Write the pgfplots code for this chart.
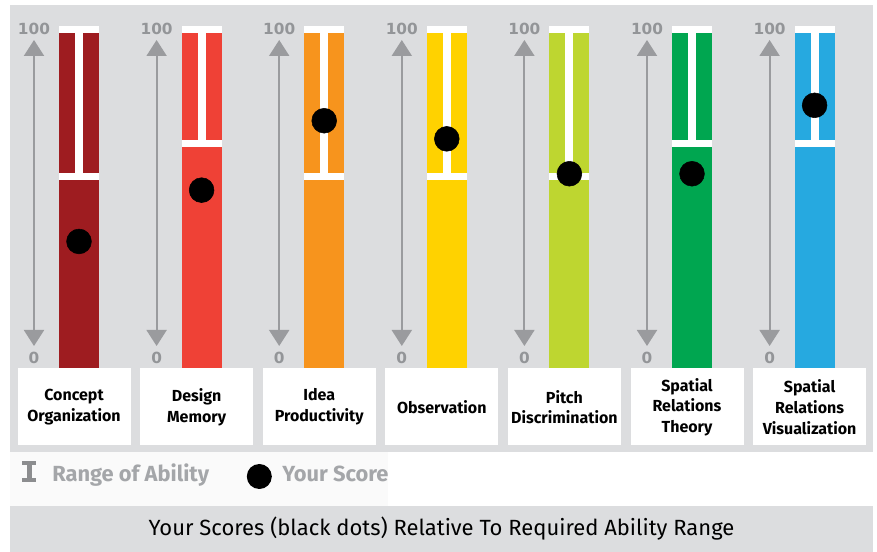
\documentclass[border=0pt]{standalone}
\usepackage{pgfplots}
\pgfplotsset{compat=1.18}
\usepackage{fontspec}
\setmainfont{Fira Sans}
\newfontfamily\dejavu{DejaVu Sans}
\usetikzlibrary{arrows.meta}

\definecolor{panel}{HTML}{DCDDDF}
\definecolor{legendbg}{HTML}{FAFAFA}
\definecolor{arrowgray}{HTML}{9A9B9E}
\definecolor{numgray}{HTML}{939598}
\definecolor{leggray}{HTML}{A4A6A9}
\definecolor{beamgray}{HTML}{8C8D8F}
\definecolor{cA}{HTML}{9E1C20}
\definecolor{cB}{HTML}{EF4136}
\definecolor{cC}{HTML}{F7941D}
\definecolor{cD}{HTML}{FFD200}
\definecolor{cE}{HTML}{BED630}
\definecolor{cF}{HTML}{00A650}
\definecolor{cG}{HTML}{26A9E0}

\begin{document}
\begin{tikzpicture}[x=0.75pt,y=0.75pt]
% background layer, laid out on a pixel grid with its origin at the top left
\begin{scope}[yshift=414pt,y=-0.75pt]
  \fill[white] (0,0) rectangle (877,552);
  \fill[panel] (10,5) rectangle (873,452.5);
  \fill[legendbg] (10,452.5) rectangle (388,506);
  \fill[panel] (10,506) rectangle (873,552);
  % scale arrows with their end labels, and the name boxes
  \foreach \i/\lab in {0/{Concept\\Organization},1/{Design\\Memory},2/{Idea\\Productivity},3/{Observation},4/{Pitch\\Discrimination},5/{Spatial\\Relations\\Theory},6/{Spatial\\Relations\\Visualization}}{
    \pgfmathsetmacro\cx{79+122.6*\i}
    \draw[arrowgray,line width=1.5pt,{Triangle[width=15,length=12]}-{Triangle[width=15,length=12]}]
      (\cx-45,346) -- (\cx-45,40);
    \node[text=numgray,font=\dejavu\bfseries\fontsize{11.5}{13}\selectfont] at (\cx-45,28.5) {100};
    \node[text=numgray,font=\dejavu\bfseries\fontsize{11.5}{13}\selectfont] at (\cx-45,358) {0};
    \fill[white] (\cx-61.5,368) rectangle (\cx+51.5,445.5);
    \node[align=center,font=\bfseries\fontsize{12}{15.5}\selectfont] at (\cx-5,407) {\lab};
  }
  % legend
  \fill[beamgray] (22,461.3) rectangle (36,465.3);
  \fill[beamgray] (26.5,461.3) rectangle (31.5,482.3);
  \fill[beamgray] (22,478.3) rectangle (36,482.3);
  \node[anchor=base west,inner sep=0pt,text=leggray,font=\bfseries\fontsize{16.4}{19}\selectfont] at (52,481.3) {Range of Ability};
  \fill[black] (259.3,476.5) circle (12.5);
  \node[anchor=base west,inner sep=0pt,text=leggray,font=\bfseries\fontsize{16.4}{19}\selectfont] at (282,481.3) {Your Score};
  \node[font=\fontsize{16.5}{19}\selectfont] at (441.5,529) {Your Scores (black dots) Relative To Required Ability Range};
\end{scope}

\begin{axis}[
  at={(0,0)},anchor=south west,
  scale only axis,width=657.75pt,height=414pt,
  xmin=-0.64437,xmax=6.50897,ymin=-53.801,ymax=107.602,
  hide axis,clip=false,
]
% ability bars, 0--100
\addplot[ybar,bar width=30pt,bar shift=0pt,fill=cA,draw=none] coordinates {(0,100)};
\addplot[ybar,bar width=30pt,bar shift=0pt,fill=cB,draw=none] coordinates {(1,100)};
\addplot[ybar,bar width=30pt,bar shift=0pt,fill=cC,draw=none] coordinates {(2,100)};
\addplot[ybar,bar width=30pt,bar shift=0pt,fill=cD,draw=none] coordinates {(3,100)};
\addplot[ybar,bar width=30pt,bar shift=0pt,fill=cE,draw=none] coordinates {(4,100)};
\addplot[ybar,bar width=30pt,bar shift=0pt,fill=cF,draw=none] coordinates {(5,100)};
\addplot[ybar,bar width=30pt,bar shift=0pt,fill=cG,draw=none] coordinates {(6,100)};
% required ability range (lower bound up to the top)
\pgfplotsset{rangebeam/.style={white,line width=6pt,mark=-,mark size=15pt,mark options={solid,line width=5.25pt}}}
\addplot[rangebeam] coordinates {(0,56) (0,98.98)};
\addplot[rangebeam] coordinates {(1,65.6) (1,98.98)};
\addplot[rangebeam] coordinates {(2,56) (2,98.98)};
\addplot[rangebeam] coordinates {(3,56) (3,98.98)};
\addplot[rangebeam] coordinates {(4,56) (4,98.98)};
\addplot[rangebeam] coordinates {(5,65.6) (5,98.98)};
\addplot[rangebeam] coordinates {(6,65.6) (6,98.98)};
% scores
\addplot[only marks,mark=*,mark size=9.3pt,black] coordinates {
  (0,37) (1,52) (2,72.3) (3,67) (4,56.8) (5,56.8) (6,76.8)};
\end{axis}
\end{tikzpicture}
\end{document}
